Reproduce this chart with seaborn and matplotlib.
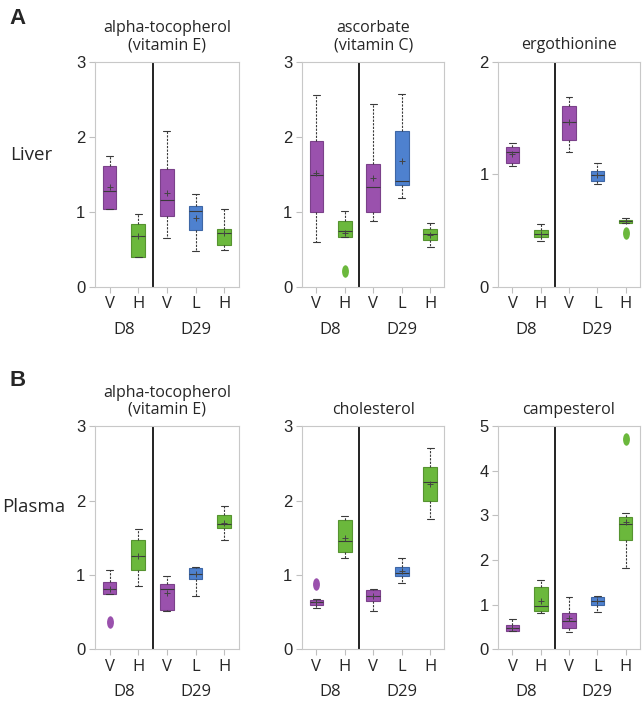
import pandas as pd
import matplotlib
matplotlib.use("Agg")
import matplotlib.pyplot as plt
from matplotlib.path import Path
from matplotlib.transforms import Affine2D
import seaborn as sns

# groups along x in every panel
groups = ["D8 V", "D8 H", "D29 V", "D29 L", "D29 H"]
tick_labels = ["V", "H", "V", "L", "H"]
day_labels = ["D8", "D29"]
day_centers = [0.5, 3]
group_colors = ["#9a51ad", "#6bb83c", "#9a51ad", "#4e81cf", "#6bb83c"]

# box stats per group: [whisker low, q1, median, q3, whisker high]
liver_vite_stats = [[1.03, 1.04, 1.27, 1.61, 1.74], [0.39, 0.39, 0.67, 0.84, 0.97],
                    [0.65, 0.94, 1.15, 1.57, 2.08], [0.47, 0.75, 1.01, 1.08, 1.23],
                    [0.49, 0.56, 0.71, 0.77, 1.03]]
liver_vite_means = [1.33, 0.67, 1.25, 0.92, 0.71]
liver_vite_outliers = []

liver_vitc_stats = [[0.60, 1.00, 1.49, 1.94, 2.56], [0.66, 0.66, 0.74, 0.88, 1.01],
                    [0.88, 0.99, 1.33, 1.64, 2.44], [1.18, 1.36, 1.41, 2.08, 2.57],
                    [0.53, 0.62, 0.70, 0.77, 0.85]]
liver_vitc_means = [1.51, 0.71, 1.45, 1.67, 0.69]
liver_vitc_outliers = [("D8 H", 0.21)]

liver_ergo_stats = [[1.07, 1.10, 1.20, 1.24, 1.28], [0.41, 0.44, 0.47, 0.50, 0.56],
                    [1.20, 1.30, 1.46, 1.61, 1.69], [0.91, 0.94, 0.99, 1.03, 1.10],
                    [0.57, 0.57, 0.58, 0.59, 0.61]]
liver_ergo_means = [1.18, 0.47, 1.46, 0.99, 0.58]
liver_ergo_outliers = [("D29 H", 0.48)]

plasma_vite_stats = [[0.74, 0.74, 0.81, 0.90, 1.06], [0.85, 1.07, 1.26, 1.47, 1.61],
                     [0.51, 0.53, 0.81, 0.88, 0.99], [0.72, 0.95, 1.01, 1.09, 1.10],
                     [1.47, 1.63, 1.69, 1.80, 1.92]]
plasma_vite_means = [0.81, 1.26, 0.76, 1.01, 1.70]
plasma_vite_outliers = [("D8 V", 0.36)]

plasma_chol_stats = [[0.55, 0.60, 0.63, 0.66, 0.67], [1.23, 1.31, 1.45, 1.74, 1.79],
                     [0.51, 0.65, 0.72, 0.80, 0.81], [0.89, 0.98, 1.03, 1.11, 1.22],
                     [1.75, 2.00, 2.25, 2.45, 2.70]]
plasma_chol_means = [0.63, 1.50, 0.72, 1.05, 2.22]
plasma_chol_outliers = [("D8 V", 0.87)]

plasma_camp_stats = [[0.41, 0.41, 0.47, 0.54, 0.68], [0.80, 0.86, 0.97, 1.39, 1.55],
                     [0.39, 0.48, 0.62, 0.80, 1.17], [0.84, 0.98, 1.08, 1.16, 1.19],
                     [1.81, 2.44, 2.81, 2.97, 3.05]]
plasma_camp_means = [0.48, 1.08, 0.69, 1.08, 2.85]
plasma_camp_outliers = [("D29 H", 4.72)]

titles = ["alpha-tocopherol\n(vitamin E)", "ascorbate\n(vitamin C)", "ergothionine",
          "alpha-tocopherol\n(vitamin E)", "cholesterol", "campesterol"]
y_max = [3, 3, 2, 3, 3, 5]
all_stats = [liver_vite_stats, liver_vitc_stats, liver_ergo_stats,
             plasma_vite_stats, plasma_chol_stats, plasma_camp_stats]
all_means = [liver_vite_means, liver_vitc_means, liver_ergo_means,
             plasma_vite_means, plasma_chol_means, plasma_camp_means]
all_outliers = [liver_vite_outliers, liver_vitc_outliers, liver_ergo_outliers,
                plasma_vite_outliers, plasma_chol_outliers, plasma_camp_outliers]

sns.set_style("ticks")
plt.rcParams["font.family"] = ["Open Sans", "DejaVu Sans"]

pal = dict(zip(groups, group_colors))
ellipse = Path.unit_circle().transformed(Affine2D().scale(0.55, 1.0))

fig = plt.figure(figsize=(6.43, 7.01), dpi=100)
lefts = [0.148, 0.470, 0.775]
widths = [0.223, 0.221, 0.220]
bottoms = [0.591, 0.074]
heights = [0.321, 0.318]

for i in range(6):
    row, col = divmod(i, 3)
    ax = fig.add_axes([lefts[col], bottoms[row], widths[col], heights[row]])

    df = pd.DataFrame([(g, v) for g, s in zip(groups, all_stats[i]) for v in s],
                      columns=["grp", "value"])
    sns.boxplot(data=df, x="grp", y="value", hue="grp", order=groups, hue_order=groups,
                palette=pal, whis=(0, 100), width=0.48, saturation=1, linewidth=0.8,
                linecolor="#3a3a3a", legend=False, ax=ax,
                medianprops=dict(color="#3a3a3a", linewidth=0.8),
                whiskerprops=dict(color="#3a3a3a", linewidth=0.8, linestyle=(0, (2.0, 1.2))),
                capprops=dict(color="#3a3a3a", linewidth=0.8))
    for p in ax.patches:
        fc = p.get_facecolor()
        p.set_edgecolor((fc[0] * 0.8, fc[1] * 0.8, fc[2] * 0.8, 1))

    means_df = pd.DataFrame({"grp": groups, "value": all_means[i]})
    sns.stripplot(data=means_df, x="grp", y="value", order=groups, color="#444444",
                  marker="+", size=5, linewidth=0.7, jitter=False, ax=ax)

    if all_outliers[i]:
        out_df = pd.DataFrame(all_outliers[i], columns=["grp", "value"])
        sns.stripplot(data=out_df, x="grp", y="value", order=groups, hue="grp",
                      palette=pal, marker=ellipse, size=9, linewidth=0, jitter=False,
                      legend=False, ax=ax)

    ax.axvline(1.5, color="#222222", linewidth=1.4)
    ax.set_xlim(-0.5, 4.5)
    ax.set_ylim(0, y_max[i])
    ax.set_yticks(range(y_max[i] + 1))
    ax.set_xticks(range(5))
    ax.set_xticklabels(tick_labels, fontsize=12)
    for lab in ax.get_yticklabels():
        lab.set_fontfamily("Liberation Sans")
        lab.set_fontsize(12)
    ax.set_xlabel("")
    ax.set_ylabel("")
    for s in ax.spines.values():
        s.set_color("#c8c8c8")
        s.set_linewidth(0.8)
    ax.tick_params(length=4, width=0.8, color="#c0c0c0", pad=3)
    ax.set_title(titles[i], fontsize=11.5, pad=9, linespacing=1.1)

    for lab, xc in zip(day_labels, day_centers):
        ax.annotate(lab, xy=(xc, 0), xycoords=("data", "axes fraction"),
                    xytext=(0, -31), textcoords="offset points",
                    ha="center", va="center", fontsize=12)

fig.text(0.014, 0.973, "A", fontsize=16, fontweight="bold", family="Liberation Sans", va="center")
fig.text(0.014, 0.457, "B", fontsize=16, fontweight="bold", family="Liberation Sans", va="center")
fig.text(0.015, 0.779, "Liver", fontsize=13.5, va="center")
fig.text(0.003, 0.277, "Plasma", fontsize=13.5, va="center")

fig.savefig("out.png", dpi=100)
